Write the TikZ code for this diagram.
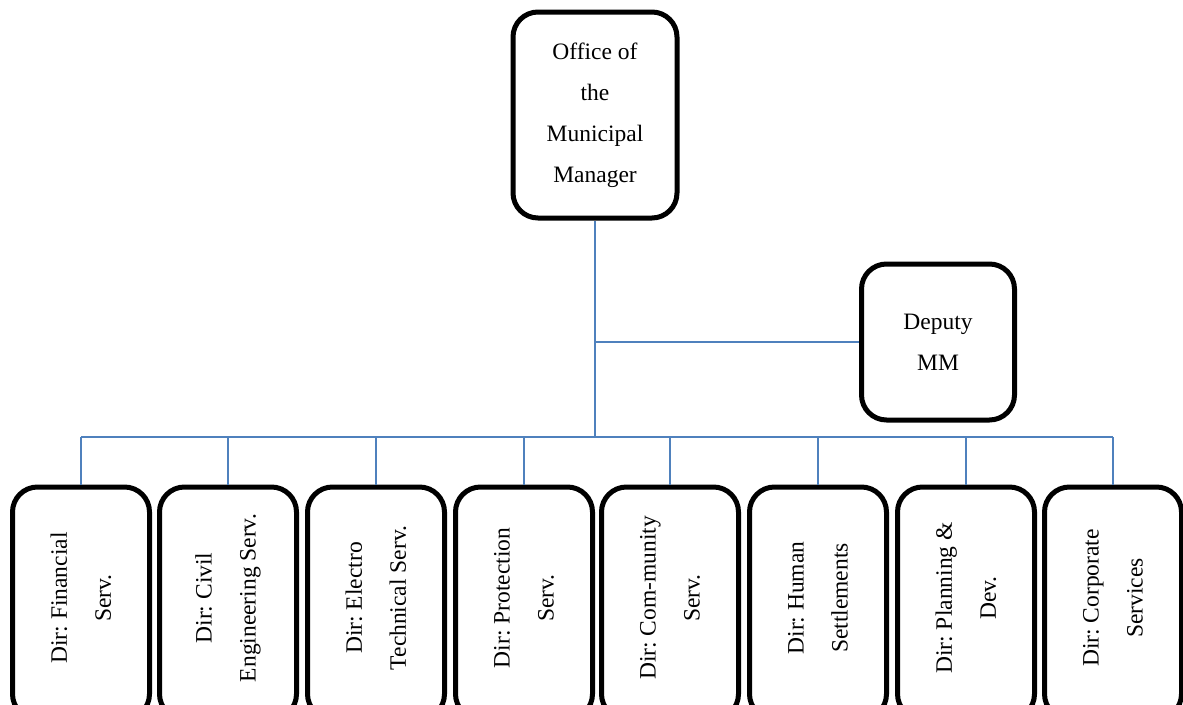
\documentclass[tikz,border=0pt]{standalone}
\usepackage{fontspec}
\setmainfont{Liberation Serif}
\frenchspacing
\definecolor{conn}{RGB}{79,129,189}
\newcommand{\vtext}[2]{\rotatebox{90}{\parbox{220pt}{\centering\frenchspacing\fontsize{23.5}{44}\selectfont \hspace*{10pt}#1\\\hspace*{10pt}#2}}}
\begin{document}
\begin{tikzpicture}[x=1pt,y=-1pt,
  orgbox/.style={draw=black,line width=5pt,rounded corners=25pt,fill=white,inner sep=0pt,align=center,
    font=\fontsize{23.5}{41}\selectfont},
  dirbox/.style={orgbox,minimum width=137pt,minimum height=232pt},
  conline/.style={draw=conn,line width=2pt}]
\useasboundingbox (0,0) rectangle (1183,704);
\clip (0,0) rectangle (1183,704);
\node[orgbox,minimum width=164pt,minimum height=206pt] (mm) at (595,115) {Office of\\the\\Municipal\\Manager};
\node[orgbox,minimum width=153pt,minimum height=156pt] (dep) at (938,342) {Deputy\\MM};
\node[dirbox] (d1) at (81,603) {\vtext{Dir: Financial}{Serv.}};
\node[dirbox] (d2) at (228,603) {\vtext{Dir: Civil}{Engineering Serv.}};
\node[dirbox] (d3) at (376,603) {\vtext{Dir: Electro}{Technical Serv.}};
\node[dirbox] (d4) at (524,603) {\vtext{Dir: Protection}{Serv.}};
\node[dirbox] (d5) at (670,603) {\vtext{Dir: Com-munity}{Serv.}};
\node[dirbox] (d6) at (818,603) {\vtext{Dir: Human}{Settlements}};
\node[dirbox] (d7) at (966,603) {\vtext{Dir: Planning \&}{Dev.}};
\node[dirbox] (d8) at (1113,603) {\vtext{Dir: Corporate}{Services}};
\coordinate (bus) at (595,437);
\coordinate (depj) at (mm.south |- dep.west);
\draw[conline] (mm.south) -- (bus);
\draw[conline] (depj) -- (dep.west);
\draw[conline] (d1.north |- bus) -- (d8.north |- bus);
\foreach \i in {1,...,8} {\draw[conline] (d\i.north |- bus) -- (d\i.north);}
\end{tikzpicture}
\end{document}
